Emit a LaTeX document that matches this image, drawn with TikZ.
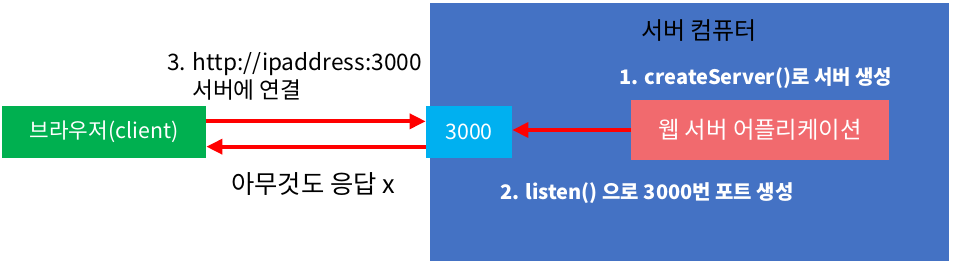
\documentclass[tikz,border=0pt]{standalone}
\usepackage{fontspec}
\setmainfont{Noto Sans CJK KR}
\usetikzlibrary{arrows.meta,positioning}

\definecolor{serverblue}{HTML}{4472C4}
\definecolor{portblue}{HTML}{00B0F0}
\definecolor{appred}{HTML}{F16A6E}
\definecolor{clientgreen}{HTML}{00B050}
\definecolor{linkred}{HTML}{FF0000}

\begin{document}
\begin{tikzpicture}[x=0.75pt, y=-0.75pt,
    box/.style={rectangle, inner sep=0pt, text=white, font=\fontsize{16}{19}\selectfont},
    steptext/.style={text=white, font=\bfseries\fontsize{15}{18}\selectfont, inner sep=0pt},
    plain/.style={text=black, font=\fontsize{18}{21}\selectfont, inner sep=0pt, align=left},
    arrow/.style={-{Triangle[length=12pt, width=11pt]}, line width=3pt, linkred}]

    \useasboundingbox (0,0) rectangle (953,264);

    % Server computer
    \node[box, fill=serverblue, minimum width=389.25pt, minimum height=193.5pt] (server) at (689.5,132) {};
    \node[plain] (title) at (699,31) {서버 컴퓨터};

    % Web server application
    \node[box, fill=appred, minimum width=193.5pt, minimum height=45pt,
          font=\fontsize{17.5}{20}\selectfont] (app) at (760,130) {웹 서버 어플리케이션};
    \node[steptext] (create) at (756,78) {1. createServer()로 서버 생성};

    % Port
    \node[box, fill=portblue, minimum width=64.5pt, minimum height=39pt] (port) at (469,132) {3000};
    \node[steptext] (listen) at (647,193) {2. listen() 으로 3000번 포트 생성};

    % Browser
    \node[box, fill=clientgreen, minimum width=153pt, minimum height=39pt] (browser) at (104,132) {브라우저(client)};

    % Labels
    \node[plain, anchor=south west, font=\fontsize{17}{21}\selectfont] (connect) at (167,101)
        {3. http://ipaddress:3000\\\hspace*{1.1em}서버에 연결};
    \node[plain, font=\fontsize{19}{21}\selectfont] (noreply) at (313,184) {아무것도 응답 x};

    \draw[arrow] (app.west) -- (app.west -| port.east);
    \draw[arrow] ([yshift=8pt]browser.east) -- ([yshift=8pt]port.west);
    \draw[arrow] ([yshift=-11pt]port.west) -- ([yshift=-11pt]browser.east);
\end{tikzpicture}
\end{document}
